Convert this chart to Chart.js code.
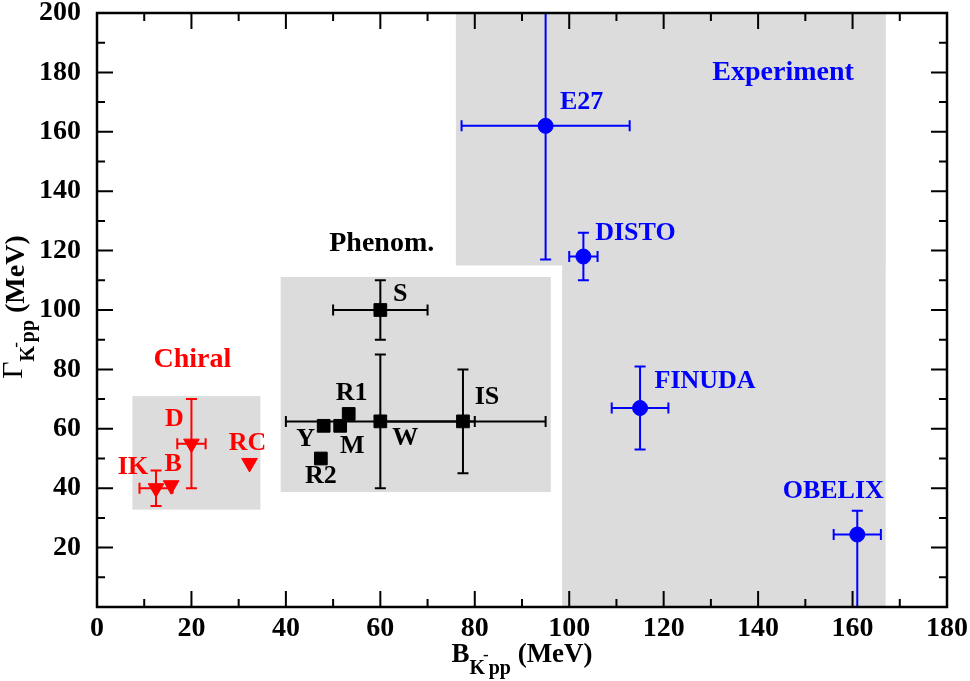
<!DOCTYPE html>
<html>
<head>
<meta charset="utf-8">
<script src="https://cdn.jsdelivr.net/npm/chart.js@4"></script>
<style>
  html, body { margin: 0; padding: 0; background: #fff; }
</style>
</head>
<body>
<canvas id="chart" width="970" height="681"></canvas>
<script>
// Chiral calculations (red)
const chiralNames = ['IK', 'B', 'D', 'RC'];
const chiralB = [12.5, 15.7, 20, 32.3];
const chiralGamma = [40, 41, 55, 48.5];
const chiralBErr = [3.5, 0, 3, 0];
const chiralGammaErrLo = [6, 0, 15, 0];
const chiralGammaErrHi = [6, 0, 15, 0];

// Phenomenological calculations (black)
const phenomNames = ['S', 'W', 'IS', 'Y', 'M', 'R1', 'R2'];
const phenomB = [60, 60, 77.5, 48, 51.5, 53.3, 47.4];
const phenomGamma = [100, 62.5, 62.5, 61, 61, 65, 50];
const phenomBErr = [10, 20, 17.5, 0, 0, 0, 0];
const phenomGammaErrLo = [10, 22.5, 17.5, 0, 0, 0, 0];
const phenomGammaErrHi = [10, 22.5, 17.5, 0, 0, 0, 0];

// Experiments (blue)
const exptNames = ['E27', 'DISTO', 'FINUDA', 'OBELIX'];
const exptB = [95, 103, 115, 161];
const exptGamma = [162, 118, 67, 24.4];
const exptBErr = [17.8, 3, 6, 5];
const exptGammaErrLo = [45, 8, 14, 30];
const exptGammaErrHi = [45, 8, 14, 8];

// shaded bands: [B from, B to, Gamma from, Gamma to]
const bandBFrom = [7.5, 38.9, 76, 98.5];
const bandBTo = [34.6, 96.1, 167, 167];
const bandGammaFrom = [32.8, 38.7, 115, 0];
const bandGammaTo = [71, 111.1, 200, 200];

// group captions
const groupNames = ['Chiral', 'Phenom.', 'Experiment'];
const groupB = [20.2, 60.3, 145.3];
const groupGamma = [83.3, 122.3, 180];

// tick labels
const xTicks = [0, 20, 40, 60, 80, 100, 120, 140, 160, 180];
const yTicks = [20, 40, 60, 80, 100, 120, 140, 160, 180, 200];

// --- styles ---
const RED = '#ff0000', BLUE = '#0000ff', BLACK = '#000000', GREY = '#dcdcdc';
const SERIF = '"Liberation Serif", "Times New Roman", serif';
const groupColors = [RED, BLACK, BLUE];

// label offsets in pixels from the marker (centre of text)
const labelOffsets = {
  IK: [-23, -21], B: [2, -21], D: [-17, -24], RC: [-2, -20],
  S: [20, -16], W: [25, 17], IS: [24, -24], Y: [-18, 13], M: [12, 20], R1: [3, -21], R2: [0, 18],
  E27: [36, -24], DISTO: [52, -23], FINUDA: [65, -27], OBELIX: [-24, -43]
};

function points(bs, gs) {
  return bs.map((b, i) => ({ x: b, y: gs[i] }));
}

const sciPlot = {
  id: 'sciPlot',
  beforeDraw(chart) {
    const { ctx, chartArea: a, scales: { x, y } } = chart;
    ctx.save();
    ctx.fillStyle = '#fff';
    ctx.fillRect(0, 0, chart.width, chart.height);
    ctx.beginPath();
    ctx.rect(a.left, a.top, a.right - a.left, a.bottom - a.top);
    ctx.clip();
    ctx.fillStyle = GREY;
    for (let i = 0; i < bandBFrom.length; i++) {
      const x0 = x.getPixelForValue(bandBFrom[i]);
      const x1 = x.getPixelForValue(bandBTo[i]);
      const y0 = y.getPixelForValue(bandGammaTo[i]);
      const y1 = y.getPixelForValue(bandGammaFrom[i]);
      ctx.fillRect(x0, y0, x1 - x0, y1 - y0);
    }
    ctx.restore();
  },
  beforeDatasetsDraw(chart) {
    const { ctx, chartArea: a, scales: { x, y } } = chart;
    const cap = 5.5;
    ctx.save();
    ctx.beginPath();
    ctx.rect(a.left, a.top, a.right - a.left, a.bottom - a.top);
    ctx.clip();
    ctx.lineWidth = 2;
    chart.data.datasets.forEach(ds => {
      ctx.strokeStyle = ds.pointBackgroundColor;
      ds.data.forEach((p, i) => {
        const px = x.getPixelForValue(p.x);
        const py = y.getPixelForValue(p.y);
        ctx.beginPath();
        if (ds.errB[i] > 0) {
          const l = x.getPixelForValue(p.x - ds.errB[i]);
          const r = x.getPixelForValue(p.x + ds.errB[i]);
          ctx.moveTo(l, py); ctx.lineTo(r, py);
          ctx.moveTo(l, py - cap); ctx.lineTo(l, py + cap);
          ctx.moveTo(r, py - cap); ctx.lineTo(r, py + cap);
        }
        if (ds.errLo[i] > 0 || ds.errHi[i] > 0) {
          const t = y.getPixelForValue(p.y + ds.errHi[i]);
          const b = y.getPixelForValue(p.y - ds.errLo[i]);
          ctx.moveTo(px, t); ctx.lineTo(px, b);
          ctx.moveTo(px - cap, t); ctx.lineTo(px + cap, t);
          ctx.moveTo(px - cap, b); ctx.lineTo(px + cap, b);
        }
        ctx.stroke();
      });
    });
    ctx.restore();
  },
  afterDraw(chart) {
    const { ctx, chartArea: a, scales: { x, y } } = chart;
    ctx.save();
    // inward ticks on all four sides
    ctx.strokeStyle = BLACK;
    ctx.lineWidth = 2;
    ctx.beginPath();
    for (let v = 0; v <= 180; v += 10) {
      const px = x.getPixelForValue(v);
      const len = v % 20 === 0 ? 16 : 8;
      ctx.moveTo(px, a.bottom); ctx.lineTo(px, a.bottom - len);
      ctx.moveTo(px, a.top); ctx.lineTo(px, a.top + len);
    }
    for (let v = 0; v <= 200; v += 10) {
      const py = y.getPixelForValue(v);
      const len = v % 20 === 0 ? 16 : 8;
      ctx.moveTo(a.left, py); ctx.lineTo(a.left + len, py);
      ctx.moveTo(a.right, py); ctx.lineTo(a.right - len, py);
    }
    ctx.stroke();
    ctx.lineWidth = 2.5;
    ctx.strokeRect(a.left, a.top, a.right - a.left, a.bottom - a.top);

    // point labels
    ctx.textAlign = 'center';
    ctx.textBaseline = 'middle';
    ctx.font = 'bold 26px ' + SERIF;
    chart.data.datasets.forEach(ds => {
      ctx.fillStyle = ds.pointBackgroundColor;
      ds.data.forEach((p, i) => {
        const off = labelOffsets[ds.names[i]];
        ctx.fillText(ds.names[i], x.getPixelForValue(p.x) + off[0], y.getPixelForValue(p.y) + off[1]);
      });
    });
    // group captions
    ctx.font = 'bold 28px ' + SERIF;
    groupNames.forEach((g, i) => {
      ctx.fillStyle = groupColors[i];
      ctx.fillText(g, x.getPixelForValue(groupB[i]), y.getPixelForValue(groupGamma[i]));
    });

    // axis titles with sub/superscripts
    ctx.fillStyle = BLACK;
    ctx.textAlign = 'left';
    ctx.textBaseline = 'alphabetic';
    const main = 'bold 27px ' + SERIF, sub = 'bold 20px ' + SERIF, sup = 'bold 17px ' + SERIF;
    drawRich(ctx, [
      ['B', main, 0, 0], ['K', sub, 12, 0], ['-', sup, -2, -2], ['pp', sub, 12, 0], [' (MeV)', main, 0, 0]
    ], (a.left + a.right) / 2, 662);

    ctx.translate(24, 307);
    ctx.rotate(-Math.PI / 2);
    drawRich(ctx, [
      ['\u0393', '30px ' + SERIF, -2, 0], ['K', sub, 10, 0], ['-', sup, -3, -2], ['pp', sub, 10, 0],
      [' (MeV)', 'bold 28px ' + SERIF, 0, 0]
    ], 0, 0);
    ctx.restore();
  }
};

// parts: [text, font, baseline shift, kern]
function drawRich(ctx, parts, cx, baseY) {
  let w = 0;
  parts.forEach(p => { ctx.font = p[1]; w += ctx.measureText(p[0]).width + p[3]; });
  let px = cx - w / 2;
  parts.forEach(p => {
    ctx.font = p[1];
    px += p[3];
    ctx.fillText(p[0], px, baseY + p[2]);
    px += ctx.measureText(p[0]).width;
  });
}

const tickFont = { family: SERIF, size: 28, weight: 'bold' };

new Chart(document.getElementById('chart').getContext('2d'), {
  type: 'scatter',
  data: {
    datasets: [
      {
        label: 'Chiral', names: chiralNames,
        data: points(chiralB, chiralGamma),
        errB: chiralBErr, errLo: chiralGammaErrLo, errHi: chiralGammaErrHi,
        pointStyle: 'triangle', pointRotation: 180, pointRadius: 9,
        pointBackgroundColor: RED, pointBorderColor: RED, pointBorderWidth: 1
      },
      {
        label: 'Phenom.', names: phenomNames,
        data: points(phenomB, phenomGamma),
        errB: phenomBErr, errLo: phenomGammaErrLo, errHi: phenomGammaErrHi,
        pointStyle: 'rect', pointRadius: 9,
        pointBackgroundColor: BLACK, pointBorderColor: BLACK, pointBorderWidth: 1
      },
      {
        label: 'Experiment', names: exptNames,
        data: points(exptB, exptGamma),
        errB: exptBErr, errLo: exptGammaErrLo, errHi: exptGammaErrHi,
        pointStyle: 'circle', pointRadius: 7.5,
        pointBackgroundColor: BLUE, pointBorderColor: BLUE, pointBorderWidth: 1
      }
    ]
  },
  options: {
    responsive: false,
    devicePixelRatio: 1,
    animation: false,
    layout: { padding: { top: 13, right: 23, left: 0, bottom: 0 } },
    plugins: { legend: { display: false }, tooltip: { enabled: false } },
    scales: {
      x: {
        type: 'linear', min: 0, max: 180,
        grid: { display: false },
        border: { display: false },
        afterBuildTicks: s => { s.ticks = xTicks.map(v => ({ value: v })); },
        ticks: { font: tickFont, color: BLACK, padding: -3, maxRotation: 0 },
        afterFit: s => { s.height = 74; s.paddingLeft = 0; s.paddingRight = 0; }
      },
      y: {
        type: 'linear', min: 0, max: 200,
        grid: { display: false },
        border: { display: false },
        afterBuildTicks: s => { s.ticks = yTicks.map(v => ({ value: v })); },
        ticks: { font: tickFont, color: BLACK, padding: 8 },
        afterFit: s => { s.width = 97; s.paddingTop = 0; s.paddingBottom = 0; }
      }
    }
  },
  plugins: [sciPlot]
});
</script>
</body>
</html>
